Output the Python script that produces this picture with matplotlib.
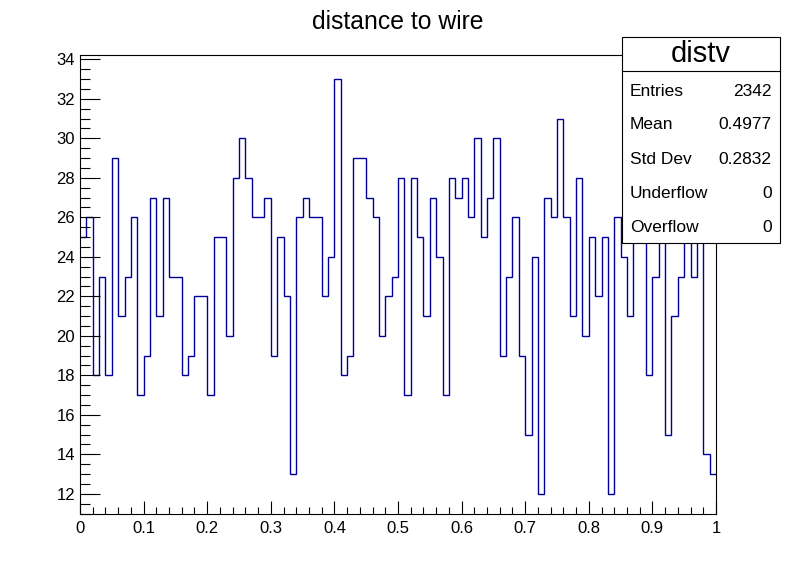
import numpy as np
import matplotlib
matplotlib.use('Agg')
from matplotlib import pyplot as plt
from matplotlib.patches import Rectangle
from matplotlib.lines import Line2D
from matplotlib.ticker import MultipleLocator, FixedLocator


# histogram definition: TH1 distv, 100 bins on [0, 1]
hist_name = 'distv'
hist_title = 'distance to wire'
nbins = 100
xmin = 0.0
xmax = 1.0

# bin contents (bins under the stats box estimated)
counts = [
    25, 26, 18, 23, 18, 29, 21, 23, 26, 17,
    19, 27, 21, 27, 23, 23, 18, 19, 22, 22,
    17, 25, 25, 20, 28, 30, 28, 26, 26, 27,
    19, 25, 22, 13, 26, 27, 26, 26, 22, 24,
    33, 18, 19, 29, 29, 27, 26, 20, 22, 23,
    28, 17, 28, 25, 21, 27, 24, 17, 28, 27,
    28, 26, 30, 25, 27, 30, 19, 23, 26, 19,
    15, 24, 12, 27, 26, 31, 26, 21, 28, 20,
    25, 22, 25, 12, 26, 24, 21, 27, 28, 18,
    23, 26, 15, 21, 23, 28, 23, 28, 14, 13,
]

stat_names = ['Entries', 'Mean', 'Std Dev', 'Underflow', 'Overflow']
stat_values = ['2342', '0.4977', '0.2832', '0', '0']

x_ticks = [0, 0.1, 0.2, 0.3, 0.4, 0.5, 0.6, 0.7, 0.8, 0.9, 1]
x_tick_labels = ['0', '0.1', '0.2', '0.3', '0.4', '0.5', '0.6', '0.7', '0.8', '0.9', '1']
y_ticks = [12, 14, 16, 18, 20, 22, 24, 26, 28, 30, 32, 34]


def main():
    plt.rcParams['font.family'] = ['Liberation Sans', 'DejaVu Sans']

    fig = plt.figure(figsize=(7.96, 5.72), dpi=100)
    ax = fig.add_axes([0.1005, 0.1014, 0.799, 0.8024])

    edges = np.linspace(xmin, xmax, nbins + 1)
    ax.stairs(counts, edges, baseline=None, color='#000099', linewidth=1.0)

    ax.set_xlim(xmin, xmax)
    ax.set_ylim(10.98, 34.22)

    ax.xaxis.set_major_locator(FixedLocator(x_ticks))
    ax.set_xticklabels(x_tick_labels)
    ax.xaxis.set_minor_locator(MultipleLocator(0.02))
    ax.yaxis.set_major_locator(FixedLocator(y_ticks))
    ax.yaxis.set_minor_locator(MultipleLocator(0.5))

    ax.tick_params(axis='both', which='both', direction='in', top=False, right=False,
                   width=0.8, labelsize=12, colors='black')
    ax.tick_params(axis='x', which='major', length=9.6, pad=5)
    ax.tick_params(axis='x', which='minor', length=4.8)
    ax.tick_params(axis='y', which='major', length=14.4, pad=3.5)
    ax.tick_params(axis='y', which='minor', length=7.2)
    for s in ax.spines.values():
        s.set_linewidth(0.8)

    fig.text(0.5, 0.962, hist_title, ha='center', va='center', fontsize=17.8)

    # stats box
    bx0, bx1 = 0.781, 0.980
    by0, by1 = 0.5747, 0.9348
    fig.add_artist(Rectangle((bx0, by0), bx1 - bx0, by1 - by0, transform=fig.transFigure,
                             facecolor='white', edgecolor='black', linewidth=0.8, zorder=5))
    fig.add_artist(Line2D([bx0, bx1], [0.8759, 0.8759], transform=fig.transFigure,
                          color='black', linewidth=0.8, zorder=6))
    fig.text((bx0 + bx1) / 2, 0.9048, hist_name, ha='center', va='center', fontsize=21, zorder=7)
    row_y = [0.8409, 0.7815, 0.7215, 0.6621, 0.6026]
    for name, val, y in zip(stat_names, stat_values, row_y):
        fig.text(0.7915, y, name, ha='left', va='center', fontsize=12.5, zorder=7)
        fig.text(0.9695, y, val, ha='right', va='center', fontsize=12.5, zorder=7)

    fig.savefig('out.png', dpi=100)


if __name__ == '__main__':
    main()
